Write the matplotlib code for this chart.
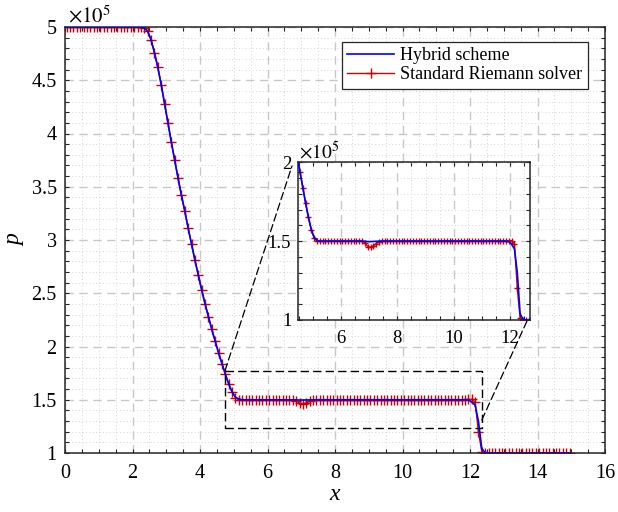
import numpy as np
import matplotlib
matplotlib.use("Agg")
import matplotlib.pyplot as plt
from matplotlib.ticker import MultipleLocator, FormatStrFormatter
from matplotlib.patches import Rectangle, ConnectionPatch

plt.rcParams['font.family'] = ['Liberation Serif', 'DejaVu Serif']
plt.rcParams['mathtext.fontset'] = 'stix'

# cell centres, 150 cells on [0, 15]
x = np.arange(150) * 0.1 + 0.05

# pressure in units of 1e5 Pa
p_riemann = ([5.0] * 23 +
             [4.99, 4.96, 4.88, 4.76, 4.62, 4.46, 4.28, 4.10, 3.92, 3.75,
              3.58, 3.42, 3.27, 3.11, 2.96, 2.81, 2.67, 2.53, 2.40, 2.28,
              2.16, 2.05, 1.94, 1.84, 1.74, 1.65, 1.57, 1.52, 1.50] +
             [1.50] * 16 +
             [1.49, 1.465, 1.46, 1.47, 1.485, 1.495] +
             [1.50] * 44 + [1.502, 1.503, 1.503] +
             [1.48, 1.20, 1.01] +
             [1.0] * 26)

p_hybrid = ([5.0] * 23 +
            [4.99, 4.96, 4.88, 4.76, 4.62, 4.46, 4.28, 4.10, 3.92, 3.75,
             3.58, 3.42, 3.27, 3.11, 2.96, 2.81, 2.67, 2.53, 2.40, 2.28,
             2.16, 2.05, 1.94, 1.84, 1.74, 1.65, 1.575, 1.525, 1.505] +
            [1.50] * 16 +
            [1.499, 1.497, 1.497, 1.498, 1.499, 1.50] +
            [1.50] * 45 + [1.497, 1.48] +
            [1.45, 1.30, 1.04] +
            [1.005] + [1.0] * 25)

# zoom window drawn on the main axes
box_x = [4.74, 12.35]
box_y = [1.238, 1.773]

W, H = 618, 512
fig = plt.figure(figsize=(W / 100, H / 100), dpi=100)
ax = fig.add_axes([65 / W, 59 / H, 540 / W, 426 / H])
ins = fig.add_axes([298.3 / W, 192 / H, 231.7 / W, 157.7 / H])

grid_major = dict(which='major', linestyle=(0, (6, 4)), color='#c8c8c8', lw=1.0)
grid_minor = dict(which='minor', linestyle=(0, (1, 2.5)), color='#d6d6d6', lw=0.7)

for a, ms in ((ax, 7), (ins, 4.5)):
    a.plot(x, p_riemann, color='#cc0000', lw=1.0, marker='+', ms=ms, mew=1.0,
           label='Standard Riemann solver', zorder=2)
    a.plot(x, p_hybrid, color='#0000ff', lw=1.2, label='Hybrid scheme', zorder=3)
    a.grid(**grid_major)
    a.grid(**grid_minor)
    a.set_axisbelow(True)
    a.tick_params(which='both', direction='in', top=True, right=True,
                  length=3, width=0.8, color='#262626')
    a.yaxis.set_major_formatter(FormatStrFormatter('%g'))
    a.xaxis.set_major_formatter(FormatStrFormatter('%g'))
    for s in a.spines.values():
        s.set_linewidth(1.1)
        s.set_color('#262626')

ax.set_xlim(0, 16)
ax.set_ylim(1, 5)
ax.xaxis.set_major_locator(MultipleLocator(2))
ax.xaxis.set_minor_locator(MultipleLocator(0.5))
ax.yaxis.set_major_locator(MultipleLocator(0.5))
ax.yaxis.set_minor_locator(MultipleLocator(0.1))
ax.tick_params(axis='x', which='major', labelsize=14.5, pad=8)
ax.tick_params(axis='y', which='major', labelsize=14.5, pad=6)
ax.set_xlabel('x', fontstyle='italic', fontsize=17, labelpad=1)
ax.set_ylabel('p', fontstyle='italic', fontsize=17, labelpad=4)
ax.text(0.005, 0.998, r'$\times 10^{5}$', transform=ax.transAxes,
        ha='left', va='bottom', fontsize=15)

h, l = ax.get_legend_handles_labels()
leg = ax.legend(h[::-1], l[::-1], loc='upper right',
                bbox_to_anchor=(0.9685, 0.965), fontsize=13,
                frameon=True, fancybox=False, framealpha=1, edgecolor='#262626',
                handlelength=2.6, handletextpad=0.35, labelspacing=0.1,
                borderpad=0.3, borderaxespad=0)
leg.get_frame().set_linewidth(0.9)

ins.set_xlim(4.49, 12.7)
ins.set_ylim(1, 2)
ins.set_facecolor('white')
ins.xaxis.set_major_locator(MultipleLocator(2))
ins.xaxis.set_minor_locator(MultipleLocator(0.5))
ins.yaxis.set_major_locator(MultipleLocator(0.5))
ins.yaxis.set_minor_locator(MultipleLocator(0.1))
ins.tick_params(axis='x', which='major', labelsize=13.5, pad=7)
ins.tick_params(axis='y', which='major', labelsize=13.5, pad=5)
ins.text(0.005, 0.998, r'$\times 10^{5}$', transform=ins.transAxes,
         ha='left', va='bottom', fontsize=14)

ax.add_patch(Rectangle((box_x[0], box_y[0]), box_x[1] - box_x[0],
                       box_y[1] - box_y[0], fill=False, ec='black',
                       lw=1.0, ls=(0, (6, 3)), zorder=4))

for xa, xb in [((box_x[0], box_y[1]), (292, H - 166)),
               ((box_x[1], 1.31), (527, H - 321))]:
    con = ConnectionPatch(xyA=xa, coordsA=ax.transData, xyB=xb,
                          coordsB='figure pixels', color='black', lw=0.9,
                          ls=(0, (6, 3)))
    fig.add_artist(con)

fig.savefig('out.png', dpi=100)
